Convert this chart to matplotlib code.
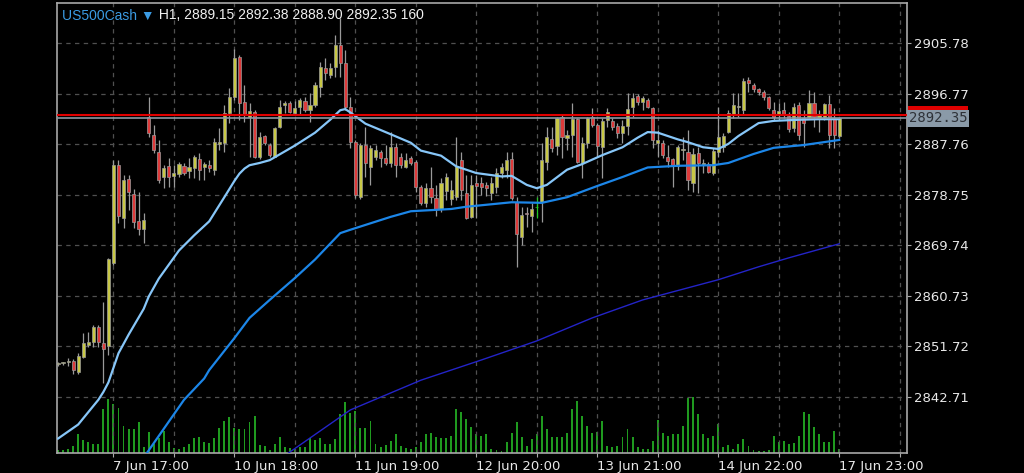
import matplotlib
matplotlib.use('Agg')
import matplotlib.pyplot as plt
import matplotlib.patches as patches
import matplotlib.transforms as mtransforms
import numpy as np

# hourly candles, US500Cash H1
opens = [2848.5, 2848.7, 2848.9, 2849.1, 2847.2, 2849.8, 2852.0, 2852.5, 2855.2, 2852.3,
         2851.8, 2866.6, 2884.0, 2874.6, 2881.5, 2878.9, 2874.1, 2872.6, 2892.6, 2889.4,
         2886.4, 2881.9, 2883.9, 2882.1, 2882.4, 2883.9, 2883.0, 2883.5, 2885.1, 2883.7,
         2884.0, 2883.2, 2887.8, 2887.9, 2893.3, 2896.2, 2903.3, 2895.3, 2892.6, 2893.5,
         2885.5, 2889.2, 2887.6, 2885.5, 2890.8, 2894.7, 2895.1, 2893.3, 2894.4, 2895.4,
         2893.8, 2894.7, 2897.9, 2901.3, 2900.1, 2901.5, 2905.4, 2902.2, 2894.4, 2888.1,
         2878.3, 2887.6, 2883.7, 2885.5, 2886.4, 2885.3, 2884.4, 2887.3, 2885.5, 2883.7,
         2885.3, 2884.6, 2880.1, 2877.3, 2880.0, 2878.2, 2876.2, 2879.4, 2878.0, 2878.3,
         2884.9, 2879.0, 2874.8, 2880.8, 2880.8, 2880.5, 2879.0, 2880.1, 2882.6, 2883.2,
         2885.1, 2877.4, 2871.2, 2875.5, 2874.9, 2876.5, 2877.4, 2884.6, 2888.7, 2887.4,
         2892.6, 2888.9, 2889.4, 2892.2, 2884.4, 2888.0, 2892.6, 2891.2, 2887.2, 2892.1,
         2891.9, 2891.0, 2889.7, 2891.0, 2894.4, 2896.3, 2895.3, 2895.6, 2894.2, 2888.0,
         2888.0, 2885.5, 2885.1, 2883.9, 2886.7, 2886.4, 2880.8, 2886.2, 2884.0, 2884.2,
         2882.6, 2886.4, 2887.2, 2889.9, 2892.9, 2894.4, 2893.8, 2899.2, 2898.3, 2897.6,
         2897.1, 2896.2, 2893.8, 2892.9, 2893.8, 2892.8, 2890.6, 2894.7, 2892.4, 2892.6,
         2895.1, 2892.4, 2892.6, 2894.9, 2892.4, 2889.15]
highs = [2849.0, 2849.0, 2849.6, 2849.5, 2850.5, 2854.1, 2854.3, 2855.5, 2855.5, 2859.6,
         2867.5, 2884.9, 2884.9, 2882.3, 2882.3, 2879.8, 2879.2, 2875.5, 2896.2, 2891.2,
         2888.5, 2884.0, 2885.3, 2884.0, 2884.6, 2884.4, 2885.3, 2885.8, 2886.2, 2884.6,
         2884.9, 2888.9, 2890.6, 2894.7, 2897.8, 2904.7, 2903.6, 2898.3, 2895.1, 2893.8,
         2889.9, 2889.4, 2888.0, 2890.8, 2895.6, 2895.4, 2895.4, 2895.4, 2896.0, 2896.2,
         2896.9, 2898.8, 2902.4, 2903.1, 2902.2, 2907.2, 2910.2, 2904.5, 2896.2, 2888.5,
         2887.9, 2890.8, 2887.6, 2887.6, 2886.7, 2887.6, 2889.9, 2888.0, 2886.2, 2886.2,
         2885.6, 2884.9, 2880.5, 2880.8, 2883.7, 2880.5, 2881.7, 2882.6, 2881.4, 2889.0,
         2886.4, 2882.3, 2882.3, 2882.3, 2881.9, 2881.0, 2881.9, 2883.5, 2884.4, 2886.4,
         2886.4, 2878.3, 2876.5, 2876.5, 2877.3, 2878.3, 2887.9, 2890.8, 2890.8, 2892.6,
         2892.9, 2890.3, 2895.1, 2892.4, 2889.0, 2892.6, 2894.2, 2891.5, 2892.4, 2894.2,
         2892.4, 2891.5, 2892.1, 2896.9, 2896.9, 2896.7, 2896.3, 2896.0, 2894.4, 2890.3,
         2888.5, 2887.6, 2885.3, 2887.6, 2889.0, 2890.3, 2887.1, 2887.2, 2885.1, 2884.6,
         2887.1, 2894.4, 2889.7, 2893.8, 2896.9, 2896.9, 2899.5, 2899.7, 2898.7, 2897.8,
         2897.4, 2896.3, 2895.3, 2895.1, 2895.3, 2893.5, 2895.1, 2895.3, 2893.8, 2897.4,
         2897.1, 2893.8, 2895.1, 2896.5, 2894.2, 2892.38]
lows = [2848.3, 2848.4, 2848.2, 2846.8, 2846.8, 2849.7, 2851.6, 2851.6, 2851.6, 2845.2,
        2850.2, 2866.2, 2873.7, 2872.8, 2876.0, 2872.8, 2871.6, 2870.1, 2889.0, 2886.2,
        2880.8, 2879.9, 2880.1, 2880.1, 2881.9, 2882.3, 2881.7, 2881.7, 2881.4, 2881.4,
        2882.8, 2882.3, 2886.7, 2886.4, 2891.5, 2895.6, 2892.1, 2891.7, 2885.5, 2885.3,
        2885.1, 2887.6, 2885.5, 2885.5, 2890.6, 2893.3, 2893.3, 2892.9, 2892.9, 2893.5,
        2891.7, 2894.4, 2896.2, 2899.2, 2899.5, 2899.7, 2899.7, 2893.8, 2887.1, 2878.2,
        2878.0, 2881.9, 2880.5, 2884.9, 2883.7, 2884.0, 2883.7, 2881.9, 2883.5, 2883.5,
        2884.0, 2879.2, 2876.9, 2876.6, 2877.3, 2874.9, 2875.7, 2877.8, 2876.9, 2877.8,
        2877.8, 2874.4, 2874.6, 2874.6, 2878.7, 2878.5, 2877.8, 2879.0, 2881.7, 2881.7,
        2877.8, 2865.9, 2869.8, 2873.0, 2872.1, 2874.6, 2873.9, 2883.2, 2886.4, 2885.8,
        2885.3, 2886.7, 2885.5, 2884.4, 2881.7, 2887.1, 2890.8, 2885.5, 2881.7, 2890.8,
        2890.3, 2888.9, 2888.0, 2889.4, 2892.6, 2894.7, 2893.8, 2894.2, 2887.1, 2885.5,
        2885.3, 2883.7, 2880.1, 2883.2, 2884.9, 2879.6, 2879.2, 2879.0, 2882.6, 2882.6,
        2882.3, 2885.5, 2886.4, 2889.7, 2892.4, 2892.6, 2892.9, 2897.1, 2897.1, 2896.5,
        2895.6, 2893.8, 2892.1, 2892.1, 2892.4, 2889.9, 2889.9, 2888.5, 2887.2, 2892.4,
        2890.8, 2889.9, 2892.1, 2887.1, 2887.1, 2888.90]
closes = [2848.7, 2848.9, 2849.1, 2847.5, 2850.0, 2852.3, 2852.5, 2855.2, 2852.5, 2851.3,
          2867.3, 2884.0, 2875.0, 2881.4, 2879.2, 2873.9, 2872.6, 2874.2, 2889.7, 2886.7,
          2881.4, 2883.5, 2881.9, 2882.6, 2884.2, 2882.6, 2883.7, 2885.5, 2883.2, 2884.2,
          2883.5, 2888.1, 2888.1, 2893.3, 2896.2, 2903.1, 2895.1, 2892.9, 2893.7, 2885.5,
          2889.0, 2888.0, 2885.8, 2890.6, 2894.4, 2895.1, 2893.5, 2894.2, 2895.6, 2893.8,
          2894.7, 2898.3, 2901.5, 2900.4, 2901.3, 2905.4, 2902.2, 2894.4, 2888.1, 2878.7,
          2887.6, 2884.4, 2887.1, 2886.7, 2885.3, 2884.4, 2887.3, 2884.0, 2884.0, 2884.9,
          2884.4, 2880.1, 2877.3, 2880.0, 2878.3, 2876.2, 2880.8, 2881.9, 2879.6, 2883.9,
          2879.6, 2874.6, 2880.5, 2880.3, 2880.1, 2880.0, 2880.8, 2882.6, 2883.7, 2884.9,
          2878.2, 2871.7, 2875.1, 2875.3, 2876.2, 2876.5, 2884.9, 2889.0, 2887.1, 2892.4,
          2889.0, 2889.4, 2892.2, 2884.6, 2888.0, 2892.4, 2891.2, 2887.4, 2891.9, 2893.5,
          2890.8, 2889.7, 2891.0, 2894.0, 2896.0, 2895.3, 2896.0, 2894.4, 2888.5, 2888.5,
          2885.8, 2884.8, 2883.9, 2887.2, 2886.9, 2881.4, 2886.0, 2884.4, 2884.4, 2882.8,
          2886.5, 2889.0, 2889.2, 2893.3, 2894.7, 2894.6, 2899.0, 2898.7, 2897.6, 2897.1,
          2896.2, 2894.2, 2892.6, 2893.7, 2892.9, 2890.4, 2894.4, 2889.4, 2891.5, 2895.1,
          2892.6, 2892.9, 2894.9, 2889.4, 2889.4, 2892.35]
volumes = [120, 120, 160, 280, 760, 520, 440, 360, 360, 1760,
           2160, 1960, 1800, 1080, 960, 960, 1240, 240, 840, 360,
           600, 880, 440, 200, 160, 240, 360, 600, 640, 440,
           400, 600, 1000, 1280, 1440, 1000, 960, 960, 1240, 1480,
           320, 280, 120, 360, 640, 240, 200, 160, 240, 240,
           600, 520, 600, 360, 360, 560, 1560, 2040, 1600, 1680,
           1000, 1000, 1280, 360, 240, 320, 480, 760, 280, 200,
           160, 240, 440, 760, 800, 640, 600, 600, 680, 1760,
           1640, 1360, 1040, 760, 680, 760, 160, 120, 80, 440,
           800, 1240, 640, 280, 560, 760, 1480, 960, 640, 640,
           640, 800, 1760, 2080, 1480, 1080, 800, 840, 1280, 280,
           240, 280, 640, 960, 640, 240, 160, 160, 480, 1320,
           800, 680, 760, 760, 1080, 2200, 2240, 1560, 760, 600,
           680, 1160, 240, 320, 160, 360, 560, 280, 120, 80,
           80, 120, 680, 440, 480, 360, 400, 680, 1640, 1560,
           1040, 760, 440, 440, 880, 160]

# moving averages (bar index, price)
fast_ma_idx = [0, 4, 8, 9, 10, 12, 14, 17, 18, 20, 24, 27, 30, 33, 35, 36, 37, 38, 40, 42,
               47, 51, 54, 56, 57, 58, 61, 65, 70, 72, 76, 79, 83, 88, 90, 93, 95, 97, 101,
               104, 108, 112, 115, 117, 119, 123, 125, 128, 131, 133, 135, 139, 142, 147,
               151, 155]
fast_ma = [2835.3, 2837.8, 2842.2, 2843.6, 2845.3, 2850.5, 2853.8, 2858.4, 2860.6, 2863.8,
           2868.8, 2871.5, 2874.0, 2878.3, 2881.2, 2882.5, 2883.4, 2884.0, 2884.4, 2884.9,
           2887.5, 2889.8, 2892.1, 2893.8, 2894.0, 2893.4, 2891.4, 2889.9, 2888.0, 2886.6,
           2885.7, 2883.8, 2882.6, 2882.0, 2882.1, 2880.5, 2879.9, 2880.5, 2883.2, 2884.2,
           2885.8, 2887.2, 2888.9, 2889.9, 2889.8, 2888.6, 2888.1, 2887.2, 2886.9, 2887.8,
           2889.2, 2891.5, 2891.9, 2892.1, 2892.2, 2892.2]
mid_ma_idx = [16, 18, 25, 29, 30, 35, 38, 42, 47, 51, 56, 58, 66, 70, 78, 81, 90, 96, 101,
              107, 112, 117, 123, 130, 133, 138, 142, 148, 155]
mid_ma = [2830.6, 2833.2, 2842.2, 2846.0, 2847.5, 2853.2, 2856.8, 2860.0, 2863.9, 2867.2,
          2871.9, 2872.5, 2874.8, 2875.8, 2876.2, 2876.6, 2877.4, 2877.3, 2878.3, 2880.3,
          2881.9, 2883.6, 2883.9, 2884.0, 2884.4, 2886.0, 2887.1, 2887.6, 2888.5]
slow_ma_idx = [44, 46, 58, 72, 84, 95, 106, 116, 131, 139, 145, 155]
slow_ma = [2831.6, 2832.9, 2840.4, 2845.7, 2849.3, 2852.7, 2856.8, 2860.0, 2863.6, 2865.9,
           2867.5, 2870.0]

price_ticks = [2842.71, 2851.72, 2860.73, 2869.74, 2878.75, 2887.76, 2896.77, 2905.78]
grid_idx = [11, 23, 35, 47, 59, 71, 83, 95, 107, 119, 131, 143, 155, 167]
date_labels = ['7 Jun 17:00', '', '10 Jun 18:00', '', '11 Jun 19:00', '', '12 Jun 20:00', '',
               '13 Jun 21:00', '', '14 Jun 22:00', '', '17 Jun 23:00', '']
bid = 2892.35
ask = 2893.0

bull_col = '#c8c846'
bear_col = '#de3b3b'
wick_col = '#9a9a9a'
doji_col = '#22c822'

o = np.array(opens)
h = np.array(highs)
l = np.array(lows)
c = np.array(closes)
idx = np.arange(len(o))

fig = plt.figure(figsize=(10.24, 4.73), dpi=100, facecolor='black')
ax = fig.add_axes([57 / 1024, 1 - 453 / 473, 850 / 1024, 450 / 473])
ax2 = ax.twinx()
ax.set_zorder(2)
ax2.set_zorder(1)
ax.patch.set_visible(False)
ax2.set_facecolor('black')

# volumes at the bottom
ax2.bar(idx, volumes, width=0.38, color='#1f9a1f', linewidth=0)
ax2.set_ylim(0, 18000)
ax2.set_yticks([])
for s in ax2.spines.values():
    s.set_visible(False)

# grid
for g in grid_idx:
    ax.axvline(g, color='#505050', lw=0.9, dashes=(3.5, 3.5), zorder=0)
for p in price_ticks:
    ax.axhline(p, color='#505050', lw=0.9, dashes=(3.5, 3.5), zorder=0)

# candles
body_col = np.where(c > o, bull_col, bear_col).astype(object)
body_col[c == o] = doji_col
wick_cols = [doji_col if cc == oo else wick_col for oo, cc in zip(o, c)]
ax.vlines(idx, l, h, colors=wick_cols, lw=0.9, zorder=2)
ax.bar(idx, np.maximum(np.abs(c - o), 0.08), bottom=np.minimum(o, c), width=0.62,
       color=list(body_col), edgecolor=wick_cols, linewidth=0.5, zorder=3)

# moving averages
ax.plot(fast_ma_idx, fast_ma, color='#87c6f8', lw=1.6, zorder=4, solid_joinstyle='round')
ax.plot(mid_ma_idx, mid_ma, color='#1c86e8', lw=1.6, zorder=4, solid_joinstyle='round')
ax.plot(slow_ma_idx, slow_ma, color='#2424c8', lw=1.0, zorder=4, solid_joinstyle='round')

# bid / ask lines
ax.axhline(ask, color='#e00000', lw=1.5, zorder=5)
ax.axhline(bid, color='#8b97a3', lw=1.2, zorder=5)

ax.set_xlim(-0.2, 168.45)
ax.set_ylim(2832.73, 2912.9)

ax.yaxis.tick_right()
ax.set_yticks(price_ticks)
ax.set_yticklabels(['%.2f' % p for p in price_ticks])
ax.set_xticks(grid_idx)
ax.set_xticklabels(date_labels, ha='left')
ax.tick_params(axis='both', colors='#a8a8a8', labelcolor='#e8e8e8', length=3, width=0.8,
               labelsize=9.5, pad=2)
ax2.tick_params(axis='x', length=0, labelbottom=False)
for s in ax.spines.values():
    s.set_color('#a8a8a8')
    s.set_linewidth(1.2)

# price labels on the right axis (ask box mostly hidden behind the bid box)
tr = mtransforms.blended_transform_factory(ax.transAxes, ax.transData)
ax.add_patch(patches.Rectangle((1.001, ask - 0.6), 0.071, 2.2, transform=tr,
                               facecolor='#e00000', edgecolor='none', clip_on=False, zorder=6))
ax.text(1.0025, bid, '%.2f' % bid, transform=tr, va='center', ha='left', color='#2e3238',
        family='DejaVu Sans Mono', fontsize=10, clip_on=False, zorder=7,
        bbox=dict(boxstyle='square,pad=0.12', fc='#8a9aa8', ec='none'))

# header
t1 = ax.text(0.006, 0.988, 'US500Cash \u25bc', transform=ax.transAxes, va='top', ha='left',
             color='#3b9be3', fontsize=10, family=['Liberation Sans', 'DejaVu Sans'], zorder=8)
head = ' H1, %.2f %.2f %.2f %.2f %d' % (opens[-1], highs[-1], lows[-1], closes[-1], volumes[-1])
ax.annotate(head, xy=(1, 0), xycoords=t1, va='bottom', ha='left', color='#f0f0f0',
            fontsize=10, family=['Liberation Sans', 'DejaVu Sans'], zorder=8)

fig.savefig('out.png', dpi=100, facecolor='black')
